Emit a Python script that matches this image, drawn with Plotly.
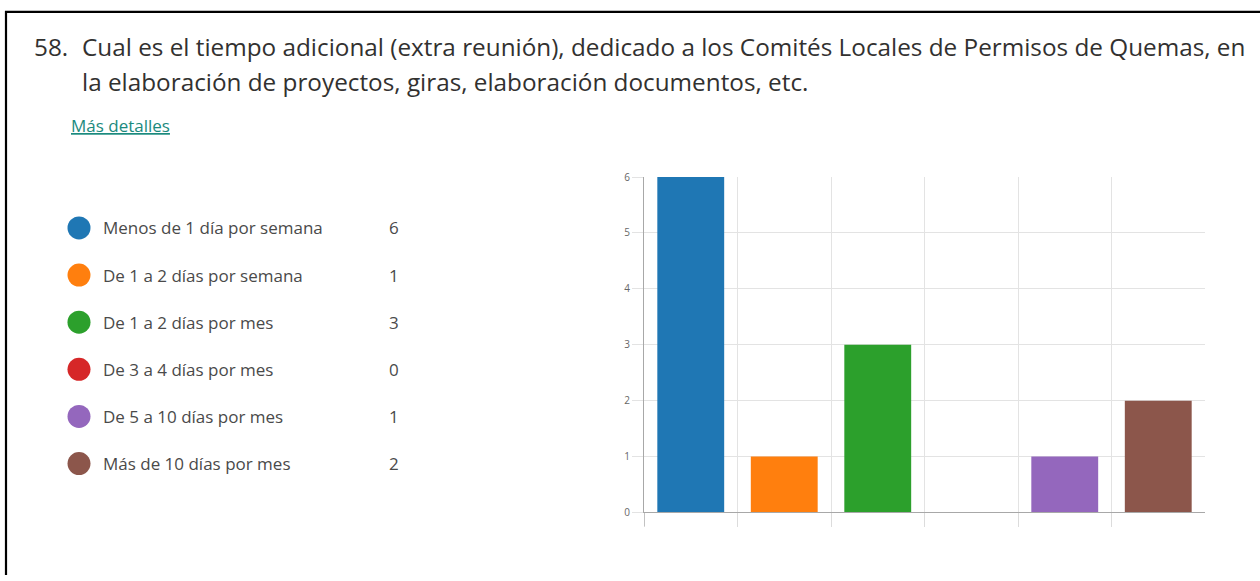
import plotly.graph_objects as go

# Survey answers (question 58)
categories = ['Menos de 1 día por semana', 'De 1 a 2 días por semana', 'De 1 a 2 días por mes',
              'De 3 a 4 días por mes', 'De 5 a 10 días por mes', 'Más de 10 días por mes']
counts = [6, 1, 3, 0, 1, 2]
colors = ['#1f77b4', '#ff7f0e', '#2ca02c', '#d62728', '#9467bd', '#8c564b']
y_ticks = [0, 1, 2, 3, 4, 5, 6]

title_line1 = 'Cual es el tiempo adicional (extra reunión), dedicado a los Comités Locales de Permisos de Quemas, en'
title_line2 = 'la elaboración de proyectos, giras, elaboración documentos, etc.'

W, H = 1260, 581
def px(x):
    return x / W
def py(y):
    return 1 - y / H

FONT = 'Segoe UI, Open Sans, Noto Sans, sans-serif'
idx = list(range(len(categories)))

fig = go.Figure()

# bar chart
fig.add_trace(go.Bar(x=idx, y=counts, marker=dict(color=colors, line=dict(width=0)),
                     width=0.715, showlegend=False, hoverinfo='skip'))

# legend dots
fig.add_trace(go.Scatter(x=[0] * len(categories), y=idx, mode='markers', xaxis='x2', yaxis='y2',
                         marker=dict(size=23, color=colors), cliponaxis=False,
                         showlegend=False, hoverinfo='skip'))

annotations = []
for i, (c, n) in enumerate(zip(categories, counts)):
    annotations.append(dict(x=0, y=i, xref='x2', yref='y2', text=c, showarrow=False,
                            xanchor='left', xshift=22, font=dict(size=17, color='#4a4a4a', family=FONT)))
    annotations.append(dict(x=1, y=i, xref='x2', yref='y2', text=str(n), showarrow=False,
                            xanchor='center', font=dict(size=17, color='#4a4a4a', family=FONT)))

# question title
annotations.append(dict(x=px(32), y=py(40), xref='paper', yref='paper', text='58.', showarrow=False,
                        xanchor='left', yanchor='middle', font=dict(size=24.3, color='#323130', family=FONT)))
annotations.append(dict(x=px(80), y=py(40), xref='paper', yref='paper', text=title_line1, showarrow=False,
                        xanchor='left', yanchor='middle', font=dict(size=24.3, color='#323130', family=FONT)))
annotations.append(dict(x=px(80), y=py(76), xref='paper', yref='paper', text=title_line2, showarrow=False,
                        xanchor='left', yanchor='middle', font=dict(size=24.3, color='#323130', family=FONT)))
annotations.append(dict(x=px(69), y=py(121), xref='paper', yref='paper', text='<u>Más detalles</u>',
                        showarrow=False, xanchor='left', yanchor='middle',
                        font=dict(size=17, color='#1b8a7e', family=FONT)))

# frame of the screenshot, plus the y axis line running past zero
shapes = [
    dict(type='line', xref='paper', yref='paper', x0=px(5), x1=px(1260), y0=py(5), y1=py(5),
         line=dict(color='black', width=2.2)),
    dict(type='line', xref='paper', yref='paper', x0=px(6), x1=px(6), y0=py(4), y1=py(581),
         line=dict(color='black', width=2.2)),
    dict(type='line', xref='x', yref='paper', x0=-0.5, x1=-0.5, y0=py(517), y1=py(531),
         line=dict(color='#a8a8a8', width=1)),
]

row_gap = (467 - 226) / 5

fig.update_layout(
    width=W, height=H,
    margin=dict(l=0, r=0, t=0, b=0),
    paper_bgcolor='white', plot_bgcolor='white',
    font=dict(family=FONT),
    bargap=0.28,
    xaxis=dict(domain=[px(644), px(1205)], range=[-0.5, 5.5],
               tickvals=[-0.5, 0.5, 1.5, 2.5, 3.5, 4.5], showticklabels=False,
               showgrid=True, gridcolor='#e3e3e3', gridwidth=1,
               ticks='outside', ticklen=14, tickcolor='#dcdcdc', tickwidth=1,
               showline=True, linecolor='#a8a8a8', linewidth=1, zeroline=False, fixedrange=True),
    yaxis=dict(domain=[py(517), py(174)], range=[0, 6], tickvals=y_ticks,
               showgrid=True, gridcolor='#e3e3e3', gridwidth=1,
               ticks='outside', ticklen=11, tickcolor='#e3e3e3', tickwidth=1,
               tickfont=dict(size=10, color='#666666', family=FONT),
               showline=True, linecolor='#a8a8a8', linewidth=1, zeroline=False, fixedrange=True),
    xaxis2=dict(domain=[px(79), px(394)], range=[0, 1], anchor='y2', visible=False),
    yaxis2=dict(domain=[py(467 + row_gap / 2), py(226 - row_gap / 2)], range=[5.5, -0.5],
                anchor='x2', visible=False),
    annotations=annotations,
    shapes=shapes,
)

fig.write_html('out.html', config={'displayModeBar': False},
               post_script="document.body.style.margin='0';document.body.style.overflow='hidden';")
